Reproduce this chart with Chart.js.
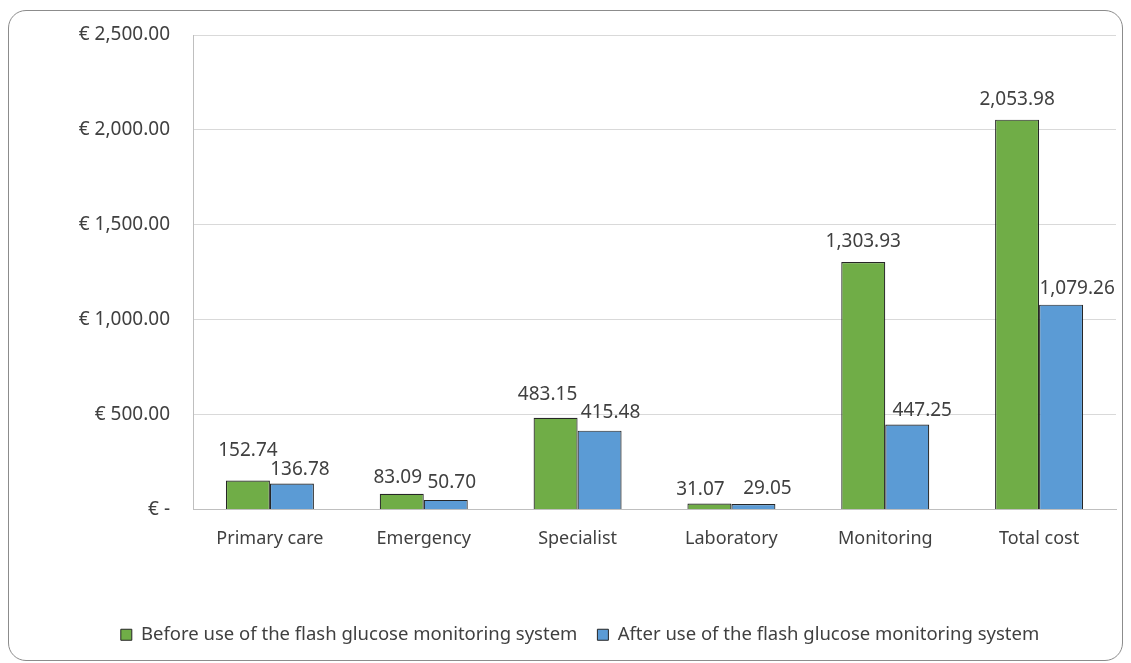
<!DOCTYPE html>
<html>
<head>
<meta charset="utf-8">
<script src="https://cdn.jsdelivr.net/npm/chart.js@4.4.1/dist/chart.umd.min.js"></script>
<style>
  html, body { margin: 0; padding: 0; background: #fff; }
  #frame { position: absolute; left: 8px; top: 10px; width: 1113px; height: 649px;
           border: 1px solid #8c8c8c; border-radius: 18px; }
  #wrap { position: absolute; left: 0; top: 0; width: 1131px; height: 663px; }
</style>
</head>
<body>
<div id="frame"></div>
<div id="wrap"><canvas id="c" width="1131" height="663"></canvas></div>
<script>
const categories = ["Primary care", "Emergency", "Specialist", "Laboratory", "Monitoring", "Total cost"];
const beforeValues = [152.74, 83.09, 483.15, 31.07, 1303.93, 2053.98];
const afterValues = [136.78, 50.70, 415.48, 29.05, 447.25, 1079.26];
const seriesNames = ["Before use of the flash glucose monitoring system", "After use of the flash glucose monitoring system"];
const yTicks = [0, 500, 1000, 1500, 2000, 2500];

// label nudges (style only): [dx, dy] per bar
const labelNudge = [
  [[0,-12],[-4,2],[-8,-5],[-9,4],[0,-2],[0,-2]],
  [[8,4],[6,1],[11,0],[14,3],[15,4],[16,2]]
];

const FONT = "'Noto Sans', 'Open Sans', sans-serif";
const fmt = v => v.toLocaleString('en-US', {minimumFractionDigits: 2, maximumFractionDigits: 2});

const labelPlugin = {
  id: 'barLabels',
  afterDatasetsDraw(chart) {
    const ctx = chart.ctx;
    ctx.save();
    ctx.font = "19px " + FONT;
    ctx.fillStyle = '#404040';
    ctx.textAlign = 'center';
    ctx.textBaseline = 'middle';
    chart.data.datasets.forEach((ds, di) => {
      chart.getDatasetMeta(di).data.forEach((bar, i) => {
        const n = labelNudge[di][i];
        ctx.fillText(fmt(ds.data[i]), bar.x + n[0], bar.y - 18 + n[1]);
      });
    });
    ctx.restore();
  }
};

new Chart(document.getElementById('c'), {
  type: 'bar',
  data: {
    labels: categories,
    datasets: [
      { label: seriesNames[0], data: beforeValues, backgroundColor: '#70AD47', borderColor: '#262626', borderWidth: 1.2, borderSkipped: 'bottom' },
      { label: seriesNames[1], data: afterValues, backgroundColor: '#5B9BD5', borderColor: '#262626', borderWidth: 1.2, borderSkipped: 'bottom' }
    ]
  },
  options: {
    responsive: false,
    animation: false,
    layout: { padding: { top: 35, right: 15, bottom: 9, left: 44 } },
    datasets: { bar: { categoryPercentage: 0.572, barPercentage: 1.0 } },
    plugins: {
      legend: {
        position: 'bottom',
        align: 'center',
        labels: {
          font: { family: FONT, size: 18.5 },
          color: '#404040',
          boxWidth: 11, boxHeight: 11,
          padding: 20,
          generateLabels(chart) {
            return chart.data.datasets.map((ds, i) => ({
              text: ds.label,
              fillStyle: ds.backgroundColor,
              strokeStyle: '#262626',
              lineWidth: 1,
              datasetIndex: i,
              fontColor: '#404040'
            }));
          }
        }
      },
      tooltip: { enabled: false }
    },
    scales: {
      x: {
        grid: { display: false, drawTicks: false },
        border: { display: true, color: '#bfbfbf' },
        ticks: { font: { family: FONT, size: 18 }, color: '#404040', padding: 19 },
        afterFit(s) { s.height = 96; }
      },
      y: {
        min: 0, max: 2500,
        afterBuildTicks(s) { s.ticks = yTicks.map(v => ({ value: v })); },
        grid: { color: '#d9d9d9', drawTicks: false },
        border: { display: true, color: '#bfbfbf' },
        ticks: {
          font: { family: FONT, size: 19 }, color: '#404040', padding: 23,
          callback: v => v === 0 ? '€ -' : '€ ' + fmt(v)
        },
        afterFit(s) { s.width = 149; }
      }
    }
  },
  plugins: [labelPlugin]
});
</script>
</body>
</html>
